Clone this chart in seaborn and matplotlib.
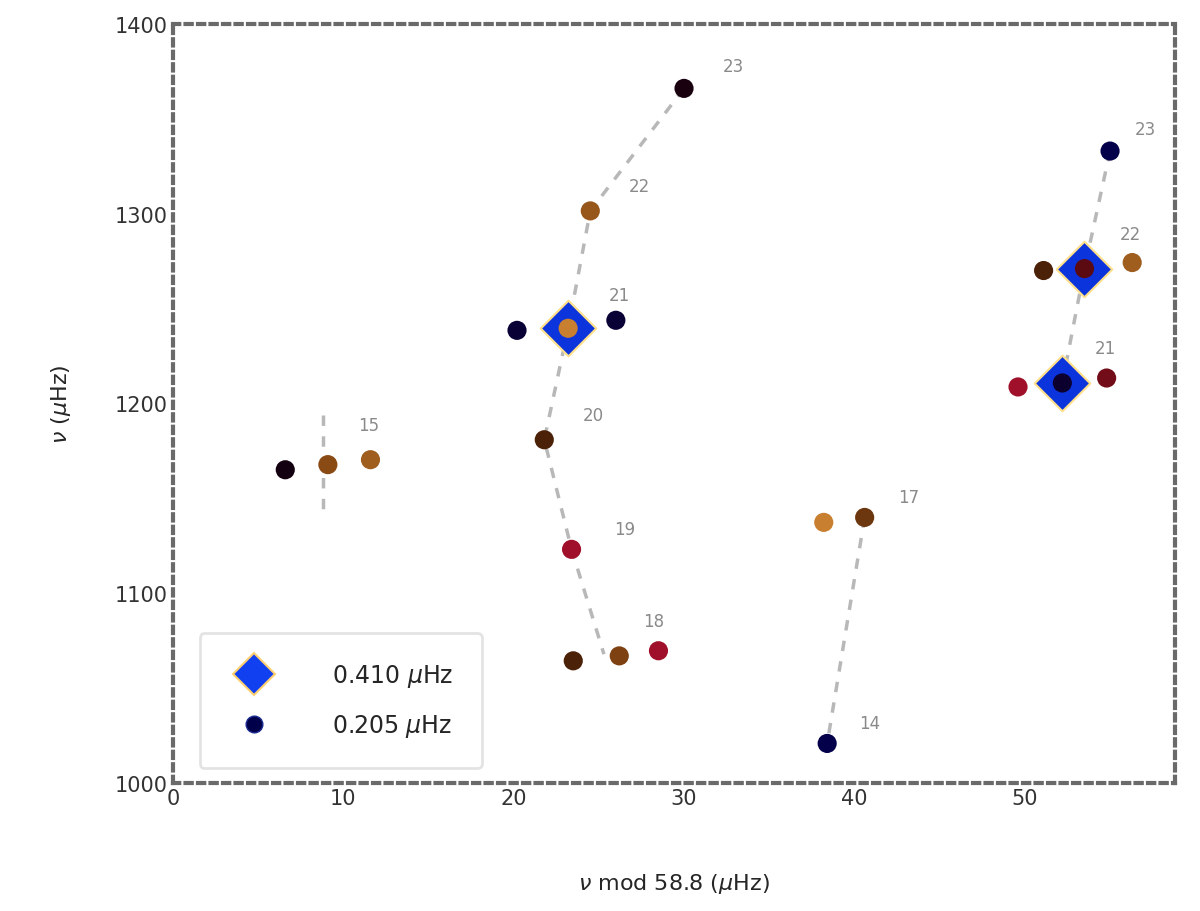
import seaborn as sns
import matplotlib.pyplot as plt
import pandas as pd
from matplotlib.colors import LinearSegmentedColormap
from matplotlib.lines import Line2D

DNU = 58.8

# peaks found at the coarse resolution (diamonds)
coarse_mod = [23.2, 53.5, 52.2]
coarse_nu = [1239.6, 1271.0, 1210.8]

# peaks found at the fine resolution (circles) and their relative height
fine_mod = [6.6, 9.1, 11.6,
            30.0, 24.5, 20.2, 23.2, 26.0, 21.8, 23.4, 23.5, 26.2, 28.5,
            38.2, 40.6, 38.4,
            55.0, 51.1, 53.5, 56.3, 49.6, 52.2, 54.8]
fine_nu = [1165.1, 1167.8, 1170.4,
           1365.9, 1301.4, 1238.5, 1239.6, 1243.8, 1180.9, 1123.2, 1064.5, 1067.1, 1069.8,
           1137.4, 1140.0, 1021.0,
           1332.9, 1270.0, 1271.0, 1274.2, 1208.7, 1210.8, 1213.4]
fine_height = [0.2, 0.85, 0.9,
               0.22, 0.88, 0.1, 1.0, 0.1, 0.7, 0.55, 0.7, 0.82, 0.55,
               1.0, 0.78, 0.05,
               0.05, 0.7, 0.4, 0.9, 0.55, 0.12, 0.45]

# ridges (dashed guides)
ridge_b_mod = [30.0, 24.5, 23.2, 21.8, 23.4, 25.3]
ridge_b_nu = [1365.9, 1301.4, 1239.6, 1180.9, 1123.2, 1068.0]
ridge_c_mod = [40.6, 38.4]
ridge_c_nu = [1140.0, 1021.0]
ridge_d_mod = [55.0, 53.5, 52.2]
ridge_d_nu = [1332.9, 1271.0, 1210.8]
ridge_a_mod = [8.8, 8.8]
ridge_a_nu = [1194.0, 1139.0]

# order labels, placed where they sit in the diagram
lab_text = ['15', '23', '22', '21', '20', '19', '18', '17', '14', '23', '22', '21']
lab_mod = [11.5, 32.9, 27.4, 26.2, 24.7, 26.5, 28.2, 43.2, 40.9, 57.1, 56.2, 54.7]
lab_nu = [1188.7, 1377.5, 1314.6, 1256.9, 1194.0, 1133.7, 1085.5, 1151.0, 1031.5, 1344.4, 1289.4, 1229.1]

sns.set_style('white')
plt.rcParams['font.family'] = ['DejaVu Sans']

fig = plt.figure(figsize=(12, 9.12), dpi=100)
ax = fig.add_axes([0.144, 0.140, 0.835, 0.833])

for mx, my in [(ridge_b_mod, ridge_b_nu), (ridge_c_mod, ridge_c_nu),
               (ridge_d_mod, ridge_d_nu), (ridge_a_mod, ridge_a_nu)]:
    sns.lineplot(x=mx, y=my, sort=False, estimator=None, ax=ax, color='#b8b8b8',
                 linestyle=(0, (3, 3)), linewidth=2.5, zorder=1)

sns.scatterplot(x=coarse_mod, y=coarse_nu, marker='D', s=800, color='#0b34dc',
                edgecolor='#ffe08a', linewidth=1.5, ax=ax, zorder=2)

cmap = LinearSegmentedColormap.from_list(
    'heat', [(0.0, '#00005a'), (0.2, '#120010'), (0.4, '#5a0a10'), (0.55, '#a0102a'),
             (0.7, '#4a2008'), (0.85, '#8a4a14'), (1.0, '#c88030')])
fine = pd.DataFrame({'mod': fine_mod, 'nu': fine_nu, 'h': fine_height})
sns.scatterplot(data=fine, x='mod', y='nu', hue='h', palette=cmap, hue_norm=(0, 1),
                s=190, edgecolor='none', legend=False, ax=ax, zorder=3)

for t, mx, my in zip(lab_text, lab_mod, lab_nu):
    ax.text(mx, my, t, ha='center', va='center', fontsize=12, color='#8a8a8a')

ax.set_xlim(0, DNU)
ax.set_ylim(1000, 1400)
ax.set_xticks([0, 10, 20, 30, 40, 50])
ax.set_yticks([1000, 1100, 1200, 1300, 1400])
ax.tick_params(labelsize=15, length=5, direction='in', color='#707070', labelcolor='#333333')
for sp in ax.spines.values():
    sp.set_linestyle((0, (1.5, 1.5)))
    sp.set_linewidth(3)
    sp.set_edgecolor('#6a6a6a')

ax.set_xlabel(r'$\nu$ mod 58.8 ($\mu$Hz)', fontsize=16, labelpad=45)
ax.set_ylabel(r'$\nu$ ($\mu$Hz)', fontsize=16, labelpad=30)

handles = [
    Line2D([], [], marker='D', linestyle='none', markersize=21, markerfacecolor='#1040f0',
           markeredgecolor='#ffd070', markeredgewidth=1.5),
    Line2D([], [], marker='o', linestyle='none', markersize=12, markerfacecolor='#00004a',
           markeredgecolor='#1a2a90', markeredgewidth=1),
]
leg = ax.legend(handles, ['0.410 $\\mu$Hz', '0.205 $\\mu$Hz'], loc='lower left',
                fontsize=17, frameon=True, borderpad=1.2, handletextpad=2.2,
                labelspacing=1.0, handlelength=2.2, bbox_to_anchor=(0.015, 0.005))
leg.get_frame().set_edgecolor('#dddddd')
leg.get_frame().set_linewidth(2)

fig.savefig('out.png', dpi=100)
